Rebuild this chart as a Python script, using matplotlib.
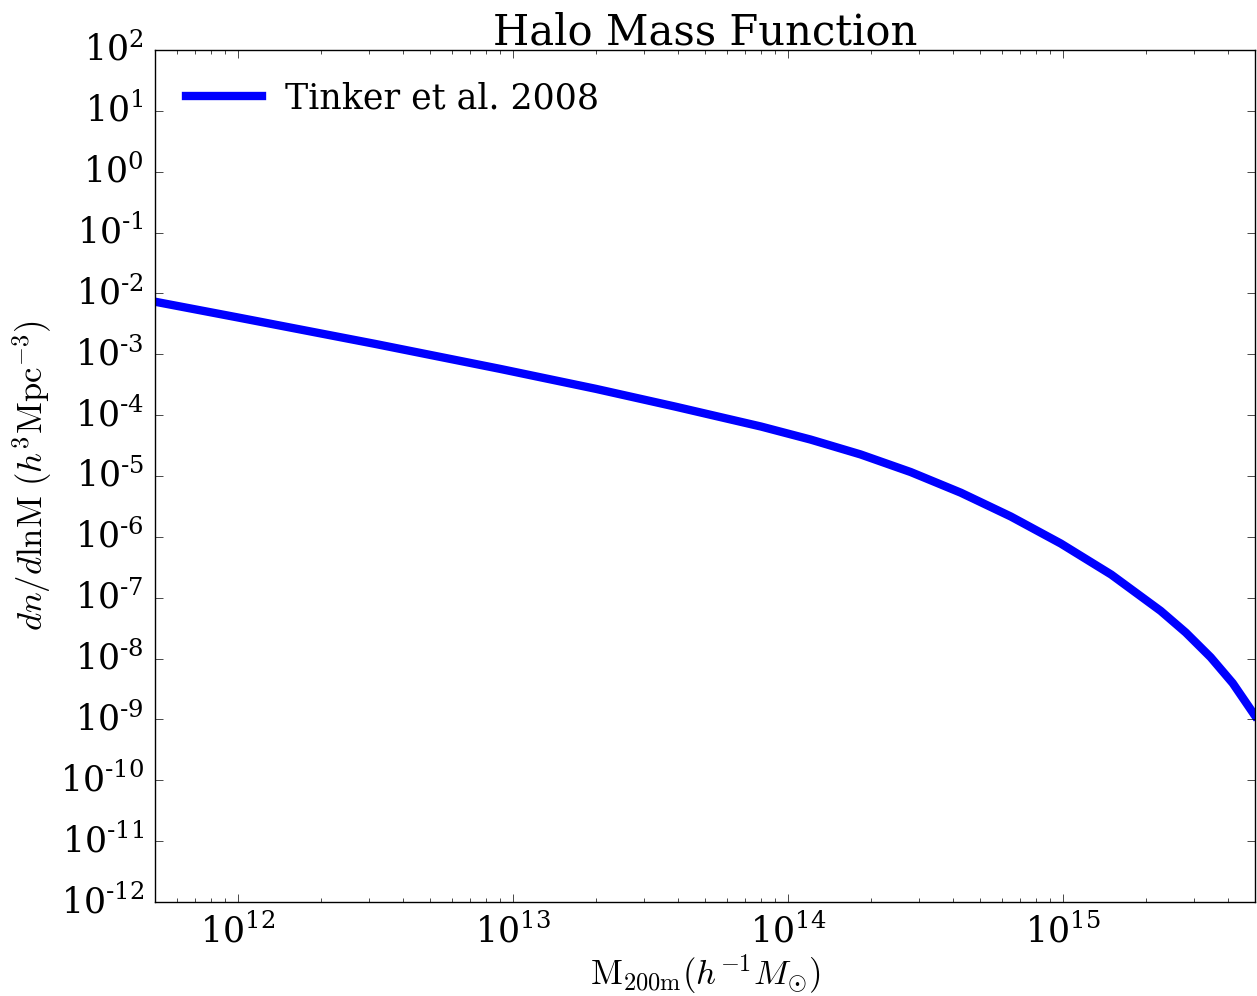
import numpy as np
import matplotlib
matplotlib.use('Agg')
import matplotlib.pyplot as plt
from matplotlib.ticker import FuncFormatter, LogLocator

# halo mass (h^-1 Msun) and dn/dlnM (h^3 Mpc^-3), Tinker et al. 2008
mass = [5.0e11, 1.0e12, 3.16e12, 9.0e12, 2.0e13, 3.9e13, 8.0e13, 1.21e14,
        1.84e14, 2.8e14, 4.26e14, 6.47e14, 9.84e14, 1.5e15, 2.27e15,
        2.8e15, 3.45e15, 4.15e15, 5.0e15]
dndlnm = [7.31e-3, 4.03e-3, 1.48e-3, 5.75e-4, 2.71e-4, 1.38e-4, 6.49e-5,
          3.97e-5, 2.26e-5, 1.16e-5, 5.31e-6, 2.16e-6, 7.76e-7, 2.40e-7,
          6.07e-8, 2.68e-8, 1.05e-8, 3.94e-9, 1.15e-9]
series_label = 'Tinker et al. 2008'

plt.style.use('classic')
plt.rcParams['font.family'] = 'serif'
plt.rcParams['font.serif'] = ['DejaVu Serif']
plt.rcParams['mathtext.fontset'] = 'dejavuserif'


def log_label(val, pos):
    exp = int(round(np.log10(val)))
    if exp < 0:
        return r'$10^{\text{%d}}$' % exp
    return r'$10^{%d}$' % exp


fig = plt.figure(figsize=(12.57, 9.96), dpi=100)
fig.patch.set_facecolor('white')
ax = fig.add_axes([0.1233, 0.0944, 0.8751, 0.8554])

ax.plot(mass, dndlnm, color='b', linewidth=6, label=series_label,
        solid_joinstyle='round')

ax.set_xscale('log')
ax.set_yscale('log')
ax.set_xlim(5e11, 5e15)
ax.set_ylim(1e-12, 1e2)
ax.yaxis.set_major_locator(LogLocator(base=10, numticks=20))
ax.yaxis.set_minor_locator(LogLocator(base=10, subs=[], numticks=20))
ax.xaxis.set_major_formatter(FuncFormatter(log_label))
ax.yaxis.set_major_formatter(FuncFormatter(log_label))
ax.tick_params(which='major', labelsize=25, length=6, pad=8)
ax.tick_params(which='minor', length=3)

ax.set_xlabel(r'$\mathrm{M_{200m}} (h^{-1}M_{\odot})$', fontsize=25,
              math_fontfamily='cm', labelpad=2)
ax.set_ylabel(r'$dn/d\mathrm{lnM}\ (h^3\mathrm{Mpc}^{-3})$', fontsize=25,
              math_fontfamily='cm', labelpad=4)
ax.set_title('Halo Mass Function', fontsize=30, pad=4)

ax.legend(loc='upper left', bbox_to_anchor=(-0.01, 1.0), frameon=False,
          fontsize=25, handlelength=2.8, handletextpad=0.35)

fig.savefig('out.png', dpi=100, facecolor='white')
plt.close(fig)
